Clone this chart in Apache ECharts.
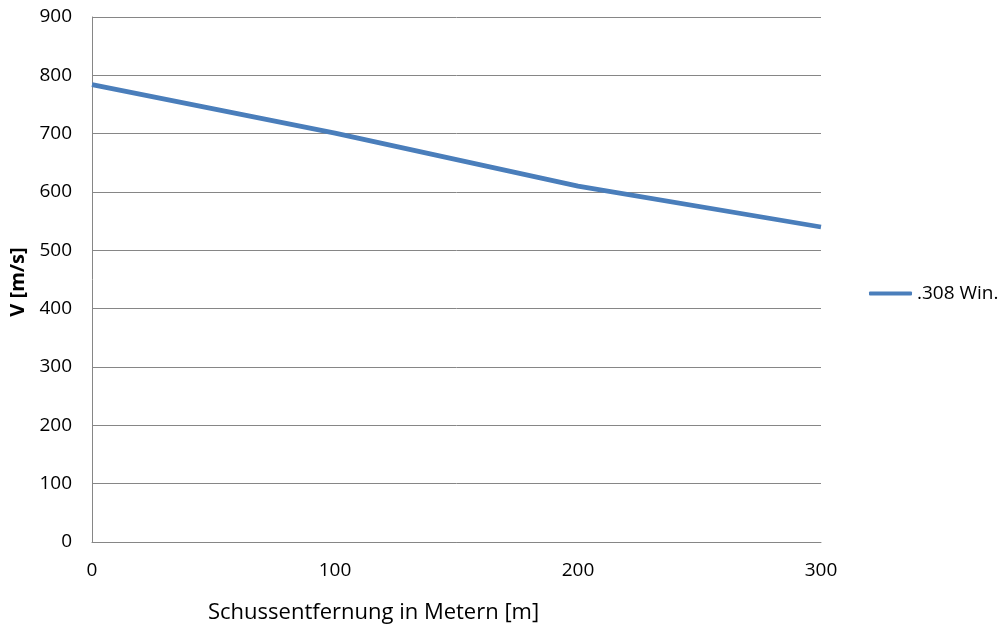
<!DOCTYPE html>
<html>
<head>
<meta charset="utf-8">
<script src="https://cdn.jsdelivr.net/npm/echarts@6/dist/echarts.min.js"></script>
<style>
  html, body { margin: 0; padding: 0; background: #fff; }
  #chart { width: 1001px; height: 629px; }
</style>
</head>
<body>
<div id="chart"></div>
<script>
// Geschwindigkeit über Schussentfernung
const distances = [0, 100, 200, 300];          // m
const velocity308 = [784, 701, 610, 540];      // m/s
const seriesName = '.308 Win.';
const xAxisTitle = 'Schussentfernung in Metern [m]';
const yAxisTitle = 'V [m/s]';

const font = '"Open Sans", "Noto Sans", sans-serif';
const gridColor = '#868686';

const chart = echarts.init(document.getElementById('chart'));
chart.setOption({
  animation: false,
  textStyle: { fontFamily: font },
  grid: { left: 92, right: 180, top: 17, bottom: 87, containLabel: false },
  legend: {
    data: [seriesName],
    left: 864,
    top: 279,
    itemWidth: 43,
    itemHeight: 4,
    icon: 'roundRect',
    textStyle: { fontSize: 19, color: '#000', fontFamily: font }
  },
  xAxis: {
    type: 'value',
    min: 0, max: 300, interval: 100,
    axisLine: { show: true, lineStyle: { color: gridColor, width: 1 } },
    axisTick: { show: false },
    splitLine: { show: false },
    axisLabel: { fontSize: 19, color: '#000', margin: 19, fontFamily: font }
  },
  yAxis: {
    type: 'value',
    min: 0, max: 900, interval: 100,
    name: yAxisTitle,
    nameLocation: 'middle',
    nameGap: 61,
    nameTextStyle: { fontSize: 20, fontWeight: 'bold', color: '#000', fontFamily: font, padding: [0, 0, 0, -5] },
    axisLine: { show: true, lineStyle: { color: gridColor, width: 1 } },
    axisTick: { show: false },
    splitLine: { show: true, lineStyle: { color: gridColor, width: 1 } },
    axisLabel: { fontSize: 19, color: '#000', margin: 20, fontFamily: font }
  },
  graphic: [{
    type: 'text',
    x: 208,
    y: 613,
    style: {
      text: xAxisTitle,
      fontSize: 22,
      fill: '#000',
      fontFamily: font,
      verticalAlign: 'middle'
    }
  }],
  series: [{
    name: seriesName,
    type: 'line',
    data: distances.map((d, i) => [d, velocity308[i]]),
    showSymbol: false,
    symbol: 'none',
    lineStyle: { color: '#4a7ebb', width: 4.8 },
    itemStyle: { color: '#4a7ebb' }
  }]
});
</script>
</body>
</html>
